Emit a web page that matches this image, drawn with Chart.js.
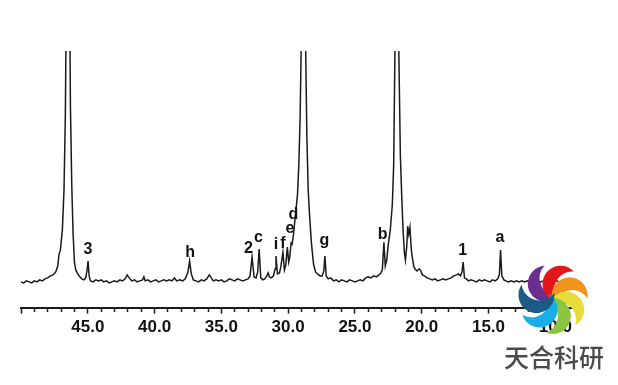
<!DOCTYPE html>
<html>
<head>
<meta charset="utf-8">
<script src="https://cdn.jsdelivr.net/npm/chart.js@4.4.1/dist/chart.umd.min.js"></script>
<style>
  html, body { margin: 0; padding: 0; background: #fff; }
  #wrap { width: 618px; height: 385px; }
</style>
</head>
<body>
<div id="wrap"><canvas id="nmr" width="618" height="385"></canvas></div>
<script>
// chemical shift (ppm) and signal height
var ppm = [
  50.0, 49.8, 49.6, 49.4, 49.2, 49.0, 48.8, 48.6, 48.4, 48.2, 48.0, 47.8, 47.6, 47.4, 47.25, 47.15, 47.05,
  46.9, 46.78, 46.68, 46.58, 46.48, 46.38, 46.3, 46.2, 46.1, 46.0, 45.9, 45.75, 45.6, 45.45, 45.3, 45.15,
  45.05, 44.98, 44.9, 44.8, 44.6, 44.4, 44.2, 44.0, 43.8, 43.6, 43.4, 43.2, 43.0, 42.8, 42.6, 42.4, 42.2,
  42.05, 41.9, 41.7, 41.5, 41.3, 41.1, 40.9, 40.8, 40.7, 40.5, 40.3, 40.1, 39.9, 39.7, 39.5, 39.3, 39.1,
  38.9, 38.7, 38.5, 38.35, 38.1, 37.9, 37.7, 37.5, 37.38, 37.25, 37.1, 36.9, 36.7, 36.5, 36.3, 36.1, 35.9,
  35.75, 35.6, 35.4, 35.2, 35.0, 34.8, 34.6, 34.4, 34.2, 34.0, 33.8, 33.6, 33.4, 33.2, 33.0, 32.85, 32.7,
  32.55, 32.4, 32.28, 32.17, 32.05, 31.9, 31.75, 31.6, 31.5, 31.4, 31.25, 31.1, 30.98, 30.91, 30.8, 30.65,
  30.55, 30.39, 30.28, 30.18, 30.06, 29.96, 29.88, 29.78, 29.7, 29.6, 29.45, 29.3, 29.2, 29.1, 29.0, 28.92,
  28.85, 28.78, 28.7, 28.6, 28.5, 28.4, 28.25, 28.1, 27.95, 27.8, 27.6, 27.45, 27.33, 27.25, 27.15, 27.0,
  26.8, 26.6, 26.4, 26.2, 26.0, 25.8, 25.6, 25.4, 25.2, 25.0, 24.8, 24.6, 24.4, 24.2, 24.0, 23.8, 23.6,
  23.4, 23.2, 23.05, 22.95, 22.83, 22.73, 22.62, 22.5, 22.35, 22.2, 22.1, 22.0, 21.93, 21.87, 21.8, 21.72,
  21.6, 21.5, 21.4, 21.3, 21.22, 21.12, 21.05, 20.97, 20.88, 20.8, 20.72, 20.6, 20.5, 20.35, 20.2, 20.1,
  19.95, 19.8, 19.6, 19.4, 19.2, 19.0, 18.8, 18.6, 18.4, 18.2, 18.0, 17.8, 17.6, 17.4, 17.25, 17.1, 16.98,
  16.9, 16.8, 16.65, 16.5, 16.3, 16.1, 15.9, 15.7, 15.5, 15.3, 15.1, 14.9, 14.7, 14.5, 14.3, 14.18, 14.1,
  14.0, 13.85, 13.7, 13.5, 13.3, 13.1, 12.9, 12.7, 12.5, 12.3, 12.1, 11.9, 11.7, 11.5, 11.3, 11.1, 10.9,
  10.7, 10.5, 10.3, 10.1, 9.9, 9.7, 9.5, 9.3, 9.1, 8.9, 8.7
];
var intensity = [
  2, 1, 3, 2, 1, 3, 2, 4, 3, 5, 6, 8, 9, 12, 18, 30, 34,
  55, 95, 170, 330, 700, 330, 180, 100, 50, 22, 14, 10, 7, 5, 4, 6,
  14, 23, 8, 3, 2, 4, 3, 4, 2, 3, 1, 2, 3, 2, 4, 3, 5,
  9, 6, 3, 4, 2, 3, 4, 7, 3, 4, 2, 3, 4, 2, 3, 4, 3,
  4, 3, 6, 3, 4, 3, 5, 12, 23, 10, 4, 3, 2, 4, 3, 5, 9,
  6, 3, 4, 3, 4, 2, 3, 5, 4, 3, 5, 4, 3, 4, 5, 8, 27,
  7, 6, 12, 35, 6, 4, 5, 8, 11, 7, 6, 8, 15, 28, 10, 11,
  17, 32, 14, 19, 37, 22, 27, 41, 40, 50, 70, 90, 120, 170, 260, 450,
  700, 450, 250, 150, 95, 70, 40, 20, 12, 10, 8, 8, 13, 28, 8, 5,
  6, 3, 4, 2, 4, 3, 2, 4, 3, 2, 3, 4, 3, 6, 7, 6, 8,
  7, 9, 11, 14, 42, 18, 24, 40, 55, 80, 120, 240, 450, 700, 450, 240,
  130, 90, 55, 32, 24, 38, 58, 50, 57, 38, 28, 18, 15, 13, 15, 14,
  9, 8, 6, 5, 4, 5, 3, 4, 5, 4, 5, 6, 8, 9, 10, 8, 12,
  22, 6, 5, 3, 4, 3, 2, 4, 3, 4, 3, 2, 4, 3, 5, 10, 34,
  8, 4, 3, 2, 3, 2, 3, 2, 3, 2, 3, 2, 4, 5, 3, 2, 3,
  4, 3, 4, 2, 3, 2, 3, 2, 3, 2, 3
];

// peak assignments written above the spectrum
var peakNames = ['3', 'h', '2', 'c', 'i', 'f', 'e', 'd', 'g', 'b', '1', 'a'];
var peakNamePpm = [44.98, 37.34, 32.98, 32.23, 30.91, 30.4, 29.86, 29.61, 27.29, 22.92, 16.93, 14.14];
var peakNameHeight = [35, 32, 35.5, 47, 39.5, 41, 56, 70, 44, 49.5, 33.5, 47];

var axisLow = 8.3, axisHigh = 50;
var watermarkText = '天合科研';
var logoColors = ['#6b2d8f', '#e3161c', '#f2951f', '#e6dc3a', '#8cc540', '#1aaee6', '#1a5a85'];

var points = [];
for (var i = 0; i < ppm.length; i++) points.push({x: ppm[i], y: intensity[i]});

var peakLabels = {
  id: 'peakLabels',
  afterDatasetsDraw: function(chart) {
    var ctx = chart.ctx, xs = chart.scales.x, ys = chart.scales.y;
    ctx.save();
    ctx.font = 'bold 16px "Liberation Sans", Arial, sans-serif';
    ctx.fillStyle = '#111';
    ctx.textAlign = 'center';
    ctx.textBaseline = 'middle';
    for (var i = 0; i < peakNames.length; i++) {
      ctx.fillText(peakNames[i], xs.getPixelForValue(peakNamePpm[i]), ys.getPixelForValue(peakNameHeight[i]));
    }
    ctx.restore();
  }
};

function blade(ctx, cx, cy, phi, color) {
  var R = 18, s = 13, d = 17;
  var bx = cx + d * Math.cos(phi), by = cy + d * Math.sin(phi);
  var psi = phi + Math.PI / 2;
  var ix = bx + s * Math.cos(psi), iy = by + s * Math.sin(psi);
  var beta = Math.acos(s / 2 / R);
  ctx.beginPath();
  ctx.arc(bx, by, R, psi + beta, psi - beta + 2 * Math.PI, false);
  ctx.arc(ix, iy, R, psi + Math.PI + beta, psi + Math.PI - beta, true);
  ctx.closePath();
  ctx.fillStyle = color;
  ctx.fill();
}

var watermark = {
  id: 'watermark',
  afterDraw: function(chart) {
    var ctx = chart.ctx;
    ctx.save();
    for (var k = 0; k < logoColors.length; k++) {
      blade(ctx, 553, 299, -Math.PI * 0.64 + k * 2 * Math.PI / logoColors.length, logoColors[k]);
    }
    ctx.font = '500 25px "Noto Sans CJK SC", sans-serif';
    ctx.fillStyle = '#4a4a4a';
    ctx.textAlign = 'center';
    ctx.textBaseline = 'middle';
    ctx.fillText(watermarkText, 554, 357);
    ctx.restore();
  }
};

new Chart(document.getElementById('nmr'), {
  type: 'line',
  data: {
    datasets: [{
      data: points,
      borderColor: '#1a1a1a',
      borderWidth: 1.5,
      pointRadius: 0,
      tension: 0,
      fill: false
    }]
  },
  options: {
    responsive: false,
    animation: false,
    devicePixelRatio: 1,
    layout: { padding: { left: 21, right: 40, top: 51, bottom: 43 } },
    plugins: { legend: { display: false }, tooltip: { enabled: false } },
    scales: {
      x: {
        type: 'linear',
        reverse: true,
        min: axisLow,
        max: axisHigh,
        afterBuildTicks: function(scale) {
          scale.ticks = scale.ticks.filter(function(t) { return Number.isInteger(t.value); });
        },
        border: { display: true, color: '#1a1a1a', width: 2 },
        grid: {
          drawOnChartArea: false,
          drawTicks: true,
          tickLength: 6,
          tickColor: '#1a1a1a',
          tickWidth: 1.5,
          tickBorderDash: function(c) { return c.tick && c.tick.value % 5 === 0 ? [] : [3, 30]; }
        },
        ticks: {
          stepSize: 1,
          autoSkip: false,
          maxRotation: 0,
          padding: 4,
          color: '#111',
          font: { family: '"Liberation Sans", Arial, sans-serif', size: 17, weight: 'bold' },
          callback: function(v) { return (v % 5 === 0 && v !== 50) ? v.toFixed(1) : ''; }
        }
      },
      y: {
        display: false,
        min: -24,
        max: 235
      }
    }
  },
  plugins: [peakLabels, watermark]
});
</script>
</body>
</html>
